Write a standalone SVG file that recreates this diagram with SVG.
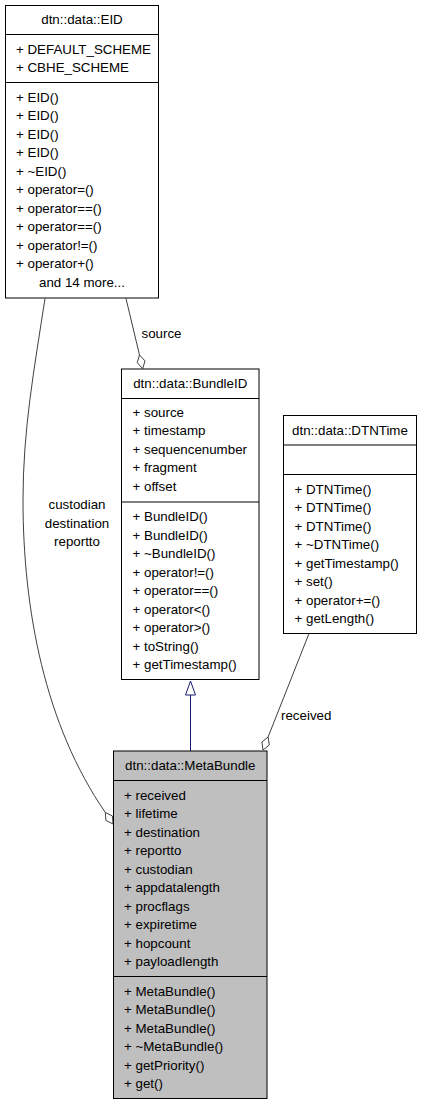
<svg xmlns="http://www.w3.org/2000/svg" width="431" height="1107" viewBox="0 0 431 1107">
<style>
text{font-family:"Liberation Sans",Arial,Helvetica,sans-serif;font-size:13.33px;fill:#000}
.c{text-anchor:middle}
.box{fill:#fff;stroke:#000;stroke-width:1}
.sel{fill:#bfbfbf;stroke:#000;stroke-width:1}
.sep{stroke:#000;stroke-width:1.2}
.edge{fill:none;stroke:#404040;stroke-width:1}
.dia{fill:#fff;stroke:#404040;stroke-width:1}
.inh{fill:none;stroke:#191970;stroke-width:1}
.tri{fill:#fff;stroke:#191970;stroke-width:1}
</style>
<rect width="431" height="1107" fill="#fff"/>
<g id="connectors">
<path class="edge" d="M45,298.5 C34,370 23,430 23,500 C23,610 45,725 105.3,812.4"/>
<polygon class="dia" points="105.3,812.4 112.5,816 113,824 105.9,820.4"/>
<line class="edge" x1="126" y1="298.5" x2="139.5" y2="355"/>
<polygon class="dia" points="139.5,355 145,360.9 142.7,368.6 137.2,362.7"/>
<line class="edge" x1="309" y1="633.5" x2="268.1" y2="737"/>
<polygon class="dia" points="268.1,737 269.3,745 263,750 261.9,742"/>
<line class="inh" x1="190.5" y1="751" x2="190.5" y2="695"/>
<polygon class="tri" points="190.5,681 185.5,695 195.5,695"/>
<text x="141.5" y="337.5">source</text>
<text x="281" y="719.5">received</text>
<text class="c" x="77" y="509">custodian</text>
<text class="c" x="77" y="527.5">destination</text>
<text class="c" x="77" y="546">reportto</text>
</g>
<g id="EID">
<rect class="box" x="5.5" y="5.5" width="153" height="292.5"/>
<line class="sep" x1="5.5" y1="34.5" x2="158.5" y2="34.5"/>
<line class="sep" x1="5.5" y1="82.5" x2="158.5" y2="82.5"/>
<text class="c" x="82" y="24.25">dtn::data::EID</text>
<text x="16" y="53.75">+ DEFAULT_SCHEME</text>
<text x="16" y="72.25">+ CBHE_SCHEME</text>
<text x="16" y="101.75">+ EID()</text>
<text x="16" y="120.25">+ EID()</text>
<text x="16" y="138.75">+ EID()</text>
<text x="16" y="157.25">+ EID()</text>
<text x="16" y="175.75">+ ~EID()</text>
<text x="16" y="194.25">+ operator=()</text>
<text x="16" y="212.75">+ operator==()</text>
<text x="16" y="231.25">+ operator==()</text>
<text x="16" y="249.75">+ operator!=()</text>
<text x="16" y="268.25">+ operator+()</text>
<text class="c" x="82" y="286.75">and 14 more...</text>
</g>
<g id="BundleID">
<rect class="box" x="121.5" y="369" width="137.5" height="310.5"/>
<line class="sep" x1="121.5" y1="398.5" x2="259" y2="398.5"/>
<line class="sep" x1="121.5" y1="502" x2="259" y2="502"/>
<text class="c" x="190.25" y="388.25">dtn::data::BundleID</text>
<text x="132.5" y="416.5">+ source</text>
<text x="132.5" y="435">+ timestamp</text>
<text x="132.5" y="453.5">+ sequencenumber</text>
<text x="132.5" y="472">+ fragment</text>
<text x="132.5" y="490.5">+ offset</text>
<text x="132.5" y="521.25">+ BundleID()</text>
<text x="132.5" y="539.75">+ BundleID()</text>
<text x="132.5" y="558.25">+ ~BundleID()</text>
<text x="132.5" y="576.75">+ operator!=()</text>
<text x="132.5" y="595.25">+ operator==()</text>
<text x="132.5" y="613.75">+ operator&lt;()</text>
<text x="132.5" y="632.25">+ operator&gt;()</text>
<text x="132.5" y="650.75">+ toString()</text>
<text x="132.5" y="669.25">+ getTimestamp()</text>
</g>
<g id="DTNTime">
<rect class="box" x="283.5" y="415.5" width="133" height="218"/>
<line class="sep" x1="283.5" y1="445" x2="416.5" y2="445"/>
<line class="sep" x1="283.5" y1="474.5" x2="416.5" y2="474.5"/>
<text class="c" x="350" y="434.75">dtn::data::DTNTime</text>
<text x="294.5" y="493.75">+ DTNTime()</text>
<text x="294.5" y="512.25">+ DTNTime()</text>
<text x="294.5" y="530.75">+ DTNTime()</text>
<text x="294.5" y="549.25">+ ~DTNTime()</text>
<text x="294.5" y="567.75">+ getTimestamp()</text>
<text x="294.5" y="586.25">+ set()</text>
<text x="294.5" y="604.75">+ operator+=()</text>
<text x="294.5" y="623.25">+ getLength()</text>
</g>
<g id="MetaBundle">
<rect class="sel" x="113.5" y="751" width="153.5" height="347.5"/>
<line class="sep" x1="113.5" y1="780.5" x2="267" y2="780.5"/>
<line class="sep" x1="113.5" y1="976.5" x2="267" y2="976.5"/>
<text class="c" x="190.25" y="770.25">dtn::data::MetaBundle</text>
<text x="124" y="799.75">+ received</text>
<text x="124" y="818.25">+ lifetime</text>
<text x="124" y="836.75">+ destination</text>
<text x="124" y="855.25">+ reportto</text>
<text x="124" y="873.75">+ custodian</text>
<text x="124" y="892.25">+ appdatalength</text>
<text x="124" y="910.75">+ procflags</text>
<text x="124" y="929.25">+ expiretime</text>
<text x="124" y="947.75">+ hopcount</text>
<text x="124" y="966.25">+ payloadlength</text>
<text x="124" y="995.75">+ MetaBundle()</text>
<text x="124" y="1014.25">+ MetaBundle()</text>
<text x="124" y="1032.75">+ MetaBundle()</text>
<text x="124" y="1051.25">+ ~MetaBundle()</text>
<text x="124" y="1069.75">+ getPriority()</text>
<text x="124" y="1088.25">+ get()</text>
</g>
</svg>
